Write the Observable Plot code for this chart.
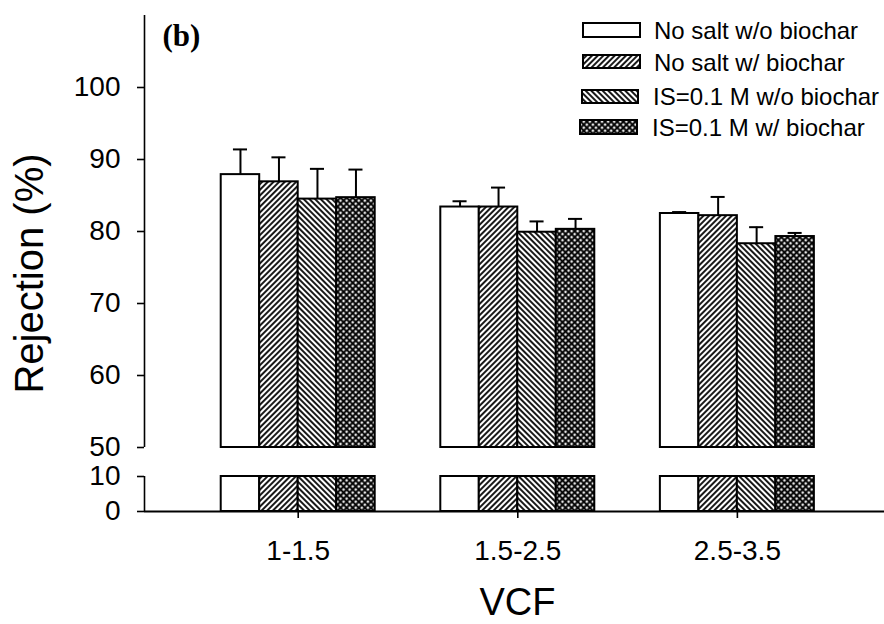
<!DOCTYPE html>
<html>
<head>
<meta charset="utf-8">
<script src="https://cdn.jsdelivr.net/npm/d3@7"></script>
<script src="https://cdn.jsdelivr.net/npm/@observablehq/plot@0.6"></script>
<style>
  html, body { margin: 0; padding: 0; background: white; }
  #wrap { position: relative; width: 884px; height: 624px; overflow: hidden; }
  #overlay { position: absolute; left: 0; top: 0; pointer-events: none; }
  #chart g[aria-label*="axis"] line, #chart g[aria-label*="axis"] path { stroke-width: 1.6; }
</style>
</head>
<body>
<svg width="0" height="0" style="position:absolute">
  <defs>
    <pattern id="hatchFwd" patternUnits="userSpaceOnUse" width="4" height="4" patternTransform="rotate(45)">
      <rect width="4" height="4" fill="white"/>
      <line x1="2" y1="-1" x2="2" y2="5" stroke="black" stroke-width="1.8"/>
    </pattern>
    <pattern id="hatchBack" patternUnits="userSpaceOnUse" width="4" height="4" patternTransform="rotate(-45)">
      <rect width="4" height="4" fill="white"/>
      <line x1="2" y1="-1" x2="2" y2="5" stroke="black" stroke-width="1.8"/>
    </pattern>
    <pattern id="cross" patternUnits="userSpaceOnUse" width="4.3" height="4.3" patternTransform="rotate(45)">
      <rect width="4.3" height="4.3" fill="#e6e6e6"/>
      <line x1="2.15" y1="-1" x2="2.15" y2="5.3" stroke="black" stroke-width="1.9"/>
      <line x1="-1" y1="2.15" x2="5.3" y2="2.15" stroke="black" stroke-width="1.9"/>
    </pattern>
  </defs>
</svg>
<div id="wrap">
  <div id="chart"></div>
  <svg id="overlay" width="884" height="624"></svg>
</div>
<script>
// ---- data ----
const categories = ["1-1.5", "1.5-2.5", "2.5-3.5"];
const seriesNames = ["No salt w/o biochar", "No salt w/ biochar", "IS=0.1 M w/o biochar", "IS=0.1 M w/ biochar"];
const noSaltNoBiochar = [87.9, 83.4, 82.5];
const noSaltBiochar   = [86.9, 83.4, 82.2];
const saltNoBiochar   = [84.5, 79.9, 78.3];
const saltBiochar     = [84.7, 80.3, 79.3];
const errNoSaltNoBiochar = [3.5, 0.8, 0.2];
const errNoSaltBiochar   = [3.4, 2.7, 2.6];
const errSaltNoBiochar   = [4.2, 1.5, 2.3];
const errSaltBiochar     = [3.9, 1.45, 0.5];
const yTicks = [0, 10, 50, 60, 70, 80, 90, 100];
const lowerSegment = [0, 10];
const upperSegment = [50, 110];

// ---- build table ----
const values = [noSaltNoBiochar, noSaltBiochar, saltNoBiochar, saltBiochar];
const errors = [errNoSaltNoBiochar, errNoSaltBiochar, errSaltNoBiochar, errSaltBiochar];
const fills = ["white", "url(#hatchFwd)", "url(#hatchBack)", "url(#cross)"];
const groupWidth = 0.7013;
const barW = groupWidth / seriesNames.length;
const capHalf = 0.032;
const rows = categories.flatMap((c, i) => seriesNames.map((s, j) => {
  const x1 = i - groupWidth / 2 + j * barW;
  return {cat: c, series: s, x1, x2: x1 + barW, xc: x1 + barW / 2,
          value: values[j][i], top: values[j][i] + errors[j][i]};
}));
const xDomain = [-0.7, 2.67];

const chart = Plot.plot({
  width: 884,
  height: 624,
  marginLeft: 144,
  marginRight: 0,
  marginTop: 15,
  marginBottom: 113,
  style: {fontFamily: "'Liberation Sans', Arial, sans-serif", fontSize: "28px", color: "black", background: "white"},
  x: {type: "linear", domain: xDomain, ticks: [0, 1, 2], tickFormat: i => categories[i],
      tickSize: 7, tickPadding: 22, label: null},
  y: {type: "linear", domain: [lowerSegment[0], lowerSegment[1], upperSegment[0], upperSegment[1]],
      range: [511, 476, 447, 15], ticks: yTicks, tickSize: 7, tickPadding: 17, label: null},
  color: {type: "ordinal", domain: seriesNames, range: fills},
  marks: [
    // error bars (upper whisker only)
    Plot.ruleX(rows, {x: "xc", y1: "value", y2: "top", stroke: "black", strokeWidth: 2}),
    Plot.ruleY(rows, {y: "top", x1: d => d.xc - capHalf, x2: d => d.xc + capHalf, stroke: "black", strokeWidth: 2}),
    // upper segment bars
    Plot.rect(rows, {x1: "x1", x2: "x2", y1: () => upperSegment[0], y2: "value", fill: "series", stroke: "black", strokeWidth: 2}),
    // lower segment bars
    Plot.rect(rows, {x1: "x1", x2: "x2", y1: () => lowerSegment[0], y2: () => lowerSegment[1], fill: "series", stroke: "black", strokeWidth: 2}),
    // broken y axis line
    Plot.ruleX([upperSegment, lowerSegment], {x: () => xDomain[0], y1: d => d[0], y2: d => d[1], stroke: "black", strokeWidth: 1.6}),
    // x axis line
    Plot.ruleY([0], {stroke: "black", strokeWidth: 2}),
    Plot.text(["(b)"], {frameAnchor: "top-left", dx: 18, dy: 8, fontFamily: "'Liberation Serif', 'Times New Roman', serif",
                        fontWeight: "bold", fontSize: 31, fill: "black"})
  ]
});
document.getElementById("chart").appendChild(chart);

// ---- labels and legend ----
const ov = d3.select("#overlay");
const sans = "'Liberation Sans', Arial, sans-serif";
ov.append("text").attr("transform", "translate(43,273.5) rotate(-90)")
  .attr("text-anchor", "middle").attr("font-family", sans).attr("font-size", 40).attr("fill", "black")
  .text("Rejection (%)");
ov.append("text").attr("x", 517.5).attr("y", 615)
  .attr("text-anchor", "middle").attr("font-family", sans).attr("font-size", 38).attr("fill", "black")
  .text("VCF");

const legendBoxes = [
  {x: 583, y: 23, w: 57, h: 14, tx: 654, ty: 39},
  {x: 583, y: 55, w: 57, h: 13, tx: 654, ty: 71},
  {x: 582, y: 90, w: 56, h: 13, tx: 653, ty: 105},
  {x: 580, y: 120, w: 57, h: 14, tx: 652, ty: 136}
];
seriesNames.forEach((s, j) => {
  const b = legendBoxes[j];
  ov.append("rect").attr("x", b.x).attr("y", b.y).attr("width", b.w).attr("height", b.h)
    .attr("fill", fills[j]).attr("stroke", "black").attr("stroke-width", 2);
  ov.append("text").attr("x", b.tx).attr("y", b.ty).attr("font-family", sans).attr("font-size", 24)
    .attr("fill", "black").text(s);
});
</script>
</body>
</html>
